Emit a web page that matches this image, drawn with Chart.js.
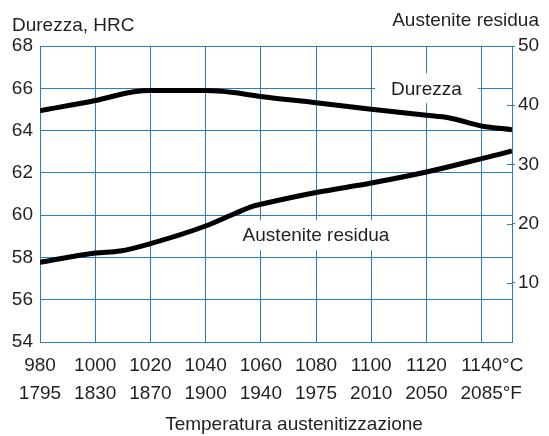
<!DOCTYPE html>
<html>
<head>
<meta charset="utf-8">
<script src="https://cdn.jsdelivr.net/npm/chart.js@4/dist/chart.umd.min.js"></script>
<style>
  html, body { margin: 0; padding: 0; background: #fff; }
  #wrap { width: 549px; height: 436px; position: relative; }
</style>
</head>
<body>
<div id="wrap"><canvas id="hardnessChart"></canvas></div>
<script>
// Temperature ticks (°C) and matching °F labels
const celsiusTicks = [980, 1000, 1020, 1040, 1060, 1080, 1100, 1120, 1140];
const fahrenheitLabels = ['1795', '1830', '1870', '1900', '1940', '1975', '2010', '2050', '2085'];

// Left axis (HRC) and right axis (residual austenite) ticks
const hrcTicks = [54, 56, 58, 60, 62, 64, 66, 68];
const austeniteTicks = [10, 20, 30, 40, 50];

// Durezza curve (left axis)
const hardTemps = [980, 1000, 1014, 1020, 1040, 1050, 1060, 1080, 1100, 1120, 1128, 1140, 1151];
const hardness  = [64.94, 65.42, 65.84, 65.9, 65.89, 65.8, 65.61, 65.32, 65.01, 64.72, 64.61, 64.22, 64.04];

// Austenite residua curve (right axis)
const austTemps = [980, 1000, 1009, 1020, 1040, 1051, 1057, 1060, 1080, 1100, 1120, 1140, 1151];
const austenite = [13.46, 15.03, 15.37, 16.62, 19.59, 21.79, 22.92, 23.26, 25.24, 26.86, 28.72, 30.98, 32.26];

const gridBlue = '#2b7cc0';
const textColor = '#231f20';
const fontFamily = '"Liberation Sans", Arial, Helvetica, sans-serif';

// Draws titles, in-plot labels and the unit suffixes
const textPlugin = {
  id: 'textPlugin',
  beforeDatasetsDraw(chart) {
    const { ctx, scales } = chart;
    ctx.save();
    ctx.font = '19px ' + fontFamily;
    ctx.textAlign = 'center';
    ctx.textBaseline = 'middle';
    const labels = [
      { text: 'Durezza', x: 1120, y: 66.0, padX: 16 },
      { text: 'Austenite residua', x: 1080, y: 59.05, padX: 10 }
    ];
    labels.forEach(l => {
      const px = scales.x.getPixelForValue(l.x);
      const py = scales.y.getPixelForValue(l.y);
      const w = ctx.measureText(l.text).width + l.padX * 2;
      ctx.fillStyle = '#fff';
      ctx.fillRect(px - w / 2, py - 15, w, 30);
      ctx.fillStyle = textColor;
      ctx.fillText(l.text, px, py + 1);
    });
    ctx.restore();
  },
  afterDraw(chart) {
    const { ctx, scales, chartArea } = chart;
    ctx.save();
    ctx.font = '19px ' + fontFamily;
    ctx.fillStyle = textColor;
    ctx.textBaseline = 'alphabetic';
    ctx.textAlign = 'left';
    ctx.fillText('Durezza, HRC', 12, 31);
    ctx.textAlign = 'right';
    ctx.fillText('Austenite residua', 539, 26);
    ctx.textAlign = 'center';
    ctx.fillText('Temperatura austenitizzazione', 294, 430);

    // unit suffixes after the last tick labels
    const last = celsiusTicks.length - 1;
    const px = scales.x.getPixelForValue(celsiusTicks[last]);
    ctx.textAlign = 'left';
    ctx.textBaseline = 'middle';
    ctx.fillText('°C', px + ctx.measureText(String(celsiusTicks[last])).width / 2, chartArea.bottom + 24);
    ctx.fillText('°F', px + ctx.measureText(fahrenheitLabels[last]).width / 2, chartArea.bottom + 52);

    // short inner tick marks on the right axis
    ctx.strokeStyle = gridBlue;
    ctx.lineWidth = 1;
    austeniteTicks.forEach(v => {
      const py = Math.round(scales.y1.getPixelForValue(v)) + 0.5;
      ctx.beginPath();
      ctx.moveTo(chartArea.right - 5, py);
      ctx.lineTo(chartArea.right, py);
      ctx.stroke();
    });
    ctx.restore();
  }
};

new Chart(document.getElementById('hardnessChart'), {
  type: 'line',
  data: {
    datasets: [
      {
        label: 'Durezza',
        data: hardTemps.map((t, i) => ({ x: t, y: hardness[i] })),
        yAxisID: 'y',
        borderColor: '#000',
        borderWidth: 5,
        pointRadius: 0,
        cubicInterpolationMode: 'monotone'
      },
      {
        label: 'Austenite residua',
        data: austTemps.map((t, i) => ({ x: t, y: austenite[i] })),
        yAxisID: 'y1',
        borderColor: '#000',
        borderWidth: 5,
        pointRadius: 0,
        cubicInterpolationMode: 'monotone'
      }
    ]
  },
  options: {
    responsive: true,
    maintainAspectRatio: false,
    animation: false,
    layout: { padding: { top: 46, left: 0, right: 0, bottom: 0 } },
    plugins: {
      legend: { display: false },
      tooltip: { enabled: false }
    },
    scales: {
      x: {
        type: 'linear',
        min: 980,
        max: 1151,
        afterBuildTicks: s => { s.ticks = celsiusTicks.map(v => ({ value: v })); },
        afterFit: s => { s.height = 94; },
        grid: { color: gridBlue, lineWidth: 1, drawTicks: false },
        border: { color: gridBlue, width: 1 },
        ticks: {
          padding: 10,
          maxRotation: 0,
          autoSkip: false,
          color: textColor,
          font: { family: fontFamily, size: 19, lineHeight: 28 / 19 },
          callback: (value, index) => [String(celsiusTicks[index]), fahrenheitLabels[index]]
        }
      },
      y: {
        position: 'left',
        min: 54,
        max: 68,
        afterBuildTicks: s => { s.ticks = hrcTicks.map(v => ({ value: v })); },
        afterFit: s => { s.width = 40; },
        grid: { color: gridBlue, lineWidth: 1, drawTicks: false },
        border: { color: gridBlue, width: 1 },
        ticks: {
          padding: 7,
          color: textColor,
          font: { family: fontFamily, size: 19 }
        }
      },
      y1: {
        position: 'right',
        min: 0,
        max: 50,
        afterBuildTicks: s => { s.ticks = austeniteTicks.map(v => ({ value: v })); },
        afterFit: s => { s.width = 37; },
        grid: { drawOnChartArea: false, color: gridBlue, tickLength: 3 },
        border: { color: gridBlue, width: 1 },
        ticks: {
          padding: 3,
          color: textColor,
          font: { family: fontFamily, size: 19 }
        }
      }
    }
  },
  plugins: [textPlugin]
});
</script>
</body>
</html>
